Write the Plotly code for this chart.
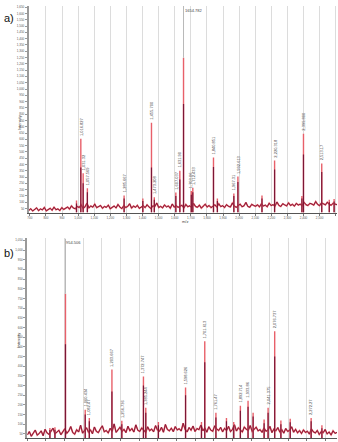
import numpy as np
import plotly.graph_objects as go

# ---------------- data ----------------
# Panel a) baseline noise (intensity, evenly spaced over the m/z range)
noise_a = [35,48,30,42,55,33,46,39,58,31,44,52,36,61,40,47,34,57,43,50,
           62,45,71,53,48,66,58,79,50,64,92,55,70,61,85,57,68,74,52,66,
           59,77,48,63,70,54,82,61,49,73,58,66,88,53,69,60,75,51,64,72,
           57,80,62,50,71,65,94,58,67,55,78,63,70,52,86,61,73,59,68,76,
           54,82,64,71,58,90,66,60,77,53,69,84,62,74,57,66,79,61,88,65,
           72,58,81,67,62,93,70,59,76,85,64,71,98,66,60,83,74,68,79,63,
           87,70,77,64,92,73,81,68,102,75,66,88,79,71,95,74,83,69,90,78,
           84,72,99,80,74,91,86,77,105,82,73,94,87,79,100,83,76,92,85,80]
noise_a_range = [694, 2608]

# Panel a) peaks
a_mz = [990, 1016.827, 1031.3, 1057.569, 1285.667, 1402, 1455.7, 1473.208, 1607.037,
        1631.9, 1654.782, 1703.06, 1712.433, 1840.851, 1865, 1967.31, 1992.613, 2142,
        2220.318, 2390, 2399.8, 2513.17, 2560, 2590]
a_light = [113, 605, 330, 210, 153, 130, 732, 140, 177, 350, 1248, 190, 215, 455, 130,
           170, 304, 153, 431, 150, 645, 407, 120, 125]
a_dark = [90, 375, 250, 180, 130, 110, 375, 120, 150, 280, 880, 160, 180, 380, 110,
          150, 260, 130, 360, 130, 480, 340, 100, 105]
a_label = ["", "1,016.827", "1,031.32", "1,057.569", "1,285.667", "", "1,455.700",
           "1,473.208", "1,607.037", "1,631.90", "1654.782", "1,703.06", "1,712.433",
           "1,840.851", "", "1,967.31", "1,992.613", "", "2,220.318", "", "2,399.800",
           "2,513.17", "", ""]

# Panel b) baseline noise
noise_b = [45,62,38,57,70,44,52,66,41,74,55,48,63,80,50,58,69,46,61,77,
           53,65,88,57,49,72,60,95,54,67,82,59,71,51,86,63,57,76,92,61,
           68,55,79,64,102,58,70,85,62,74,57,90,66,78,60,97,69,63,81,72,
           58,87,67,75,61,93,70,64,84,59,99,73,66,80,62,88,71,77,65,105,
           74,60,83,69,91,63,78,72,96,66,81,59,87,70,64,92,76,68,84,61,
           79,67,89,62,73,98,65,82,71,60,86,74,68,93,63,77,85,66,72,58,
           81,64,70,89,57,75,66,83,60,72,54,78,63,69,87,59,74,56,67,52,
           71,58,64,49,76,61,55,68,47,62,57,73,50,60,45,66,53,58]
noise_b_range = [750, 2411]

# Panel b) peaks
b_mz = [871, 898, 954.506, 1060.434, 1082.47, 1203.667, 1256.736, 1372.747, 1385.244,
        1453, 1598.626, 1684, 1701.613, 1761.47, 1818, 1857, 1892.714, 1933.86, 1961,
        2020, 2041.375, 2076.737, 2110, 2160, 2272.27, 2330]
b_light = [81, 85, 774, 175, 133, 383, 118, 347, 185, 112, 290, 112, 529, 159, 133, 112,
           196, 222, 160, 125, 185, 581, 120, 128, 133, 95]
b_dark = [70, 72, 513, 150, 115, 269, 100, 300, 160, 95, 250, 95, 420, 135, 115, 95,
          170, 190, 140, 105, 160, 450, 100, 110, 115, 80]
b_label = ["", "", "954.506", "1,060.434", "1,082.47", "1,203.667", "1,256.736",
           "1,372.747", "1,385.244", "", "1,598.626", "", "1,701.613", "1,761.47", "", "",
           "1,892.714", "1,933.86", "", "", "2,041.375", "2,076.737", "", "", "2,272.27", ""]

# ---------------- style ----------------
W, H = 338, 442
LIGHT = "#e8606a"
DARK = "#7d1636"
GRID = "#dcdcdc"
TXT = "#444444"
FONT = "Liberation Sans"

fig = go.Figure()


def add_panel(xa, ya, noise, nrange, mz, light, dark, labels, ybase, ytop):
    nx = np.linspace(nrange[0], nrange[1], len(noise))
    fig.add_trace(go.Scatter(x=nx, y=noise, mode="lines", line=dict(color=LIGHT, width=1.6),
                             xaxis=xa, yaxis=ya, hoverinfo="skip"))
    fig.add_trace(go.Scatter(x=nx, y=noise, mode="lines", line=dict(color=DARK, width=0.9),
                             xaxis=xa, yaxis=ya, hoverinfo="skip"))
    sx, sl, sd = [], [], []
    for m, l, d in zip(mz, light, dark):
        sx += [m, m, None]
        sl += [ybase, l, None]
        sd += [ybase, d, None]
    fig.add_trace(go.Scatter(x=sx, y=sl, mode="lines", line=dict(color=LIGHT, width=1.4),
                             xaxis=xa, yaxis=ya, hoverinfo="skip"))
    fig.add_trace(go.Scatter(x=sx, y=sd, mode="lines", line=dict(color=DARK, width=1.2),
                             xaxis=xa, yaxis=ya, hoverinfo="skip"))
    top = int(np.argmax(light))
    for i, (m, l, t) in enumerate(zip(mz, light, labels)):
        if not t:
            continue
        if i == top:
            fig.add_shape(type="line", x0=m, x1=m, y0=l, y1=ytop, xref=xa, yref=ya,
                          line=dict(color="#b8b8b8", width=1))
            fig.add_annotation(x=m, y=ytop, xref=xa, yref=ya, text=t, showarrow=False,
                               xanchor="left", yanchor="top", xshift=-1,
                               font=dict(size=4, color=TXT, family=FONT))
        else:
            fig.add_annotation(x=m, y=l, xref=xa, yref=ya, text=t, showarrow=False,
                               textangle=-90, xanchor="center", yanchor="bottom", yshift=1,
                               font=dict(size=4, color=TXT, family=FONT))


add_panel("x", "y", noise_a, noise_a_range, a_mz, a_light, a_dark, a_label, 18, 1660)
add_panel("x2", "y2", noise_b, noise_b_range, b_mz, b_light, b_dark, b_label, 29, 1060)

tickfont = dict(size=3, color="#555555", family=FONT)

fig.update_layout(
    width=W, height=H, margin=dict(l=0, r=0, t=0, b=0),
    paper_bgcolor="white", plot_bgcolor="white", showlegend=False,
    xaxis=dict(domain=[27 / W, 337 / W], range=[694, 2608], anchor="y",
               tickmode="linear", tick0=700, dtick=100, tickformat=",d",
               showgrid=True, gridcolor=GRID, gridwidth=1, zeroline=False,
               showline=True, linecolor="#555555", linewidth=1,
               ticks="outside", ticklen=2, tickcolor="#777777", tickfont=tickfont),
    yaxis=dict(domain=[1 - 212 / H, 1 - 5 / H], range=[18, 1660], anchor="x",
               tickmode="linear", tick0=50, dtick=50, tickformat=",d",
               showgrid=False, zeroline=False,
               showline=True, linecolor="#9a9a9a", linewidth=2,
               ticks="outside", ticklen=2, tickcolor="#9a9a9a", tickfont=tickfont),
    xaxis2=dict(domain=[25.5 / W, 337 / W], range=[750, 2411], anchor="y2",
                tickmode="linear", tick0=850, dtick=100, tickformat=",d",
                showgrid=True, gridcolor=GRID, gridwidth=1, zeroline=False,
                showline=True, linecolor="#555555", linewidth=1,
                ticks="outside", ticklen=2, tickcolor="#777777",
                showticklabels=False),
    yaxis2=dict(domain=[1 - 438 / H, 1 - 238 / H], range=[29, 1060], anchor="x2",
                tickmode="linear", tick0=50, dtick=50, tickformat=",d",
                showgrid=False, zeroline=False,
                showline=True, linecolor="#9a9a9a", linewidth=2,
                ticks="outside", ticklen=2, tickcolor="#9a9a9a", tickfont=tickfont),
)

# panel letters and axis titles
fig.add_annotation(x=0, y=1 - 17 / H, xref="paper", yref="paper", text="a)",
                   showarrow=False, xanchor="left", yanchor="middle",
                   font=dict(size=11, color="#111111", family=FONT))
fig.add_annotation(x=0, y=1 - 253 / H, xref="paper", yref="paper", text="b)",
                   showarrow=False, xanchor="left", yanchor="middle",
                   font=dict(size=11, color="#111111", family=FONT))
fig.add_annotation(x=12.5 / W, y=1 - 112 / H, xref="paper", yref="paper", text="Intensity",
                   showarrow=False, textangle=-90, font=dict(size=4, color=TXT, family=FONT))
fig.add_annotation(x=12.5 / W, y=1 - 349 / H, xref="paper", yref="paper", text="Intensity",
                   showarrow=False, textangle=-90, font=dict(size=4, color=TXT, family=FONT))
fig.add_annotation(x=184 / W, y=1 - 221.5 / H, xref="paper", yref="paper", text="m/z",
                   showarrow=False, font=dict(size=4, color=TXT, family=FONT))

fig.write_html("out.html")
